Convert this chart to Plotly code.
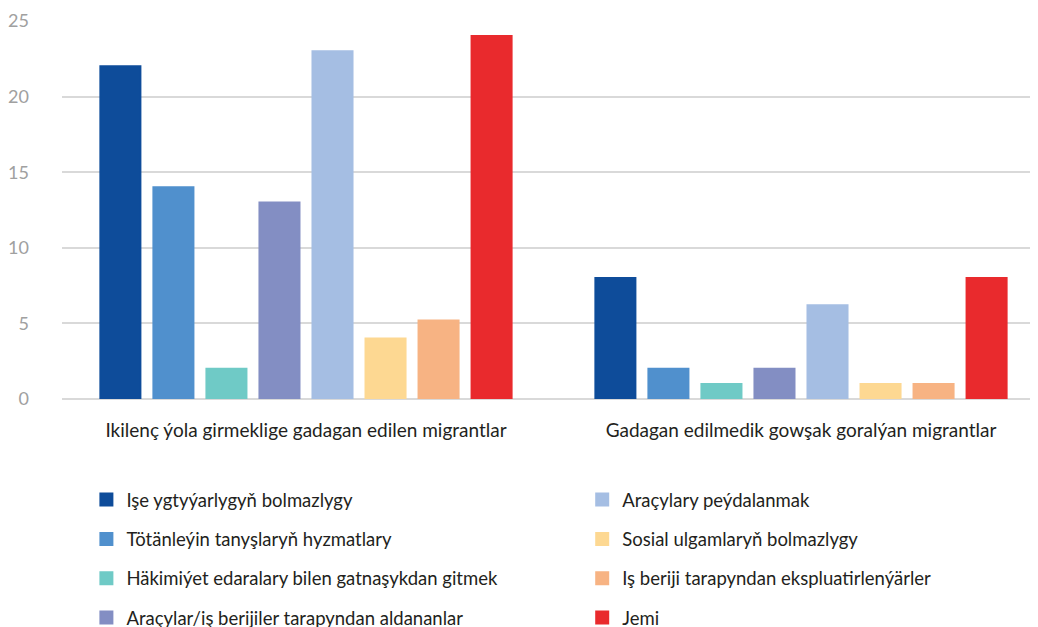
import plotly.graph_objects as go

categories = ["Ikilenç ýola girmeklige gadagan edilen migrantlar",
              "Gadagan edilmedik gowşak goralýan migrantlar"]
series_names = [
    "Işe ygtyýarlygyň bolmazlygy",
    "Tötänleýin tanyşlaryň hyzmatlary",
    "Häkimiýet edaralary bilen gatnaşykdan gitmek",
    "Araçylar/iş berijiler tarapyndan aldananlar",
    "Araçylary peýdalanmak",
    "Sosial ulgamlaryň bolmazlygy",
    "Iş beriji tarapyndan ekspluatirlenýärler",
    "Jemi",
]
values = [
    [22, 8],
    [14, 2],
    [2, 1],
    [13, 2],
    [23, 6.2],
    [4, 1],
    [5.2, 1],
    [24, 8],
]
colors = ["#0E4C9A", "#5090CD", "#6FCAC6", "#838EC3",
          "#A5BEE3", "#FDD892", "#F7B383", "#E92A2D"]
y_ticks = [0, 5, 10, 15, 20, 25]

fig = go.Figure()
for i, (name, vals, col) in enumerate(zip(series_names, values, colors)):
    fig.add_trace(go.Bar(
        x=categories, y=vals, name=name,
        marker=dict(color=col, line=dict(width=2, color=col)),
        legend="legend" if i < 4 else "legend2",
        legendgroup=f"g{i}",
    ))

font_family = "Lato, 'Open Sans', sans-serif"
legend_common = dict(
    orientation="v", yanchor="top", xanchor="left",
    font=dict(family=font_family, size=18.5, color="#231F20"),
    tracegroupgap=12.3, bgcolor="rgba(0,0,0,0)", itemwidth=30,
)
# page has an 8px body margin, so figure is 1030x619 placed at (8, 8)
fig.update_layout(
    width=1030, height=619,
    margin=dict(l=54, r=0, t=13, b=228, autoexpand=False),
    paper_bgcolor="white", plot_bgcolor="white",
    barmode="group", bargap=0.143, bargroupgap=0.245,
    font=dict(family=font_family),
    xaxis=dict(range=[-0.4929, 1.4788], showgrid=False, showline=False,
               ticks="", ticklabelstandoff=18, automargin=False,
               tickfont=dict(family=font_family, size=19, color="#231F20")),
    yaxis=dict(range=[0, 25], tickvals=y_ticks, showgrid=True,
               gridcolor="#D9D9D9", gridwidth=1.5, zeroline=True,
               zerolinecolor="#D9D9D9", zerolinewidth=1.5, showline=False,
               ticks="", ticklabelstandoff=32, automargin=False,
               tickfont=dict(family=font_family, size=18, color="#A0A0A0")),
    legend=dict(x=0.025, y=-0.217, **legend_common),
    legend2=dict(x=0.533, y=-0.217, **legend_common),
)

fig.write_html("out.html")
